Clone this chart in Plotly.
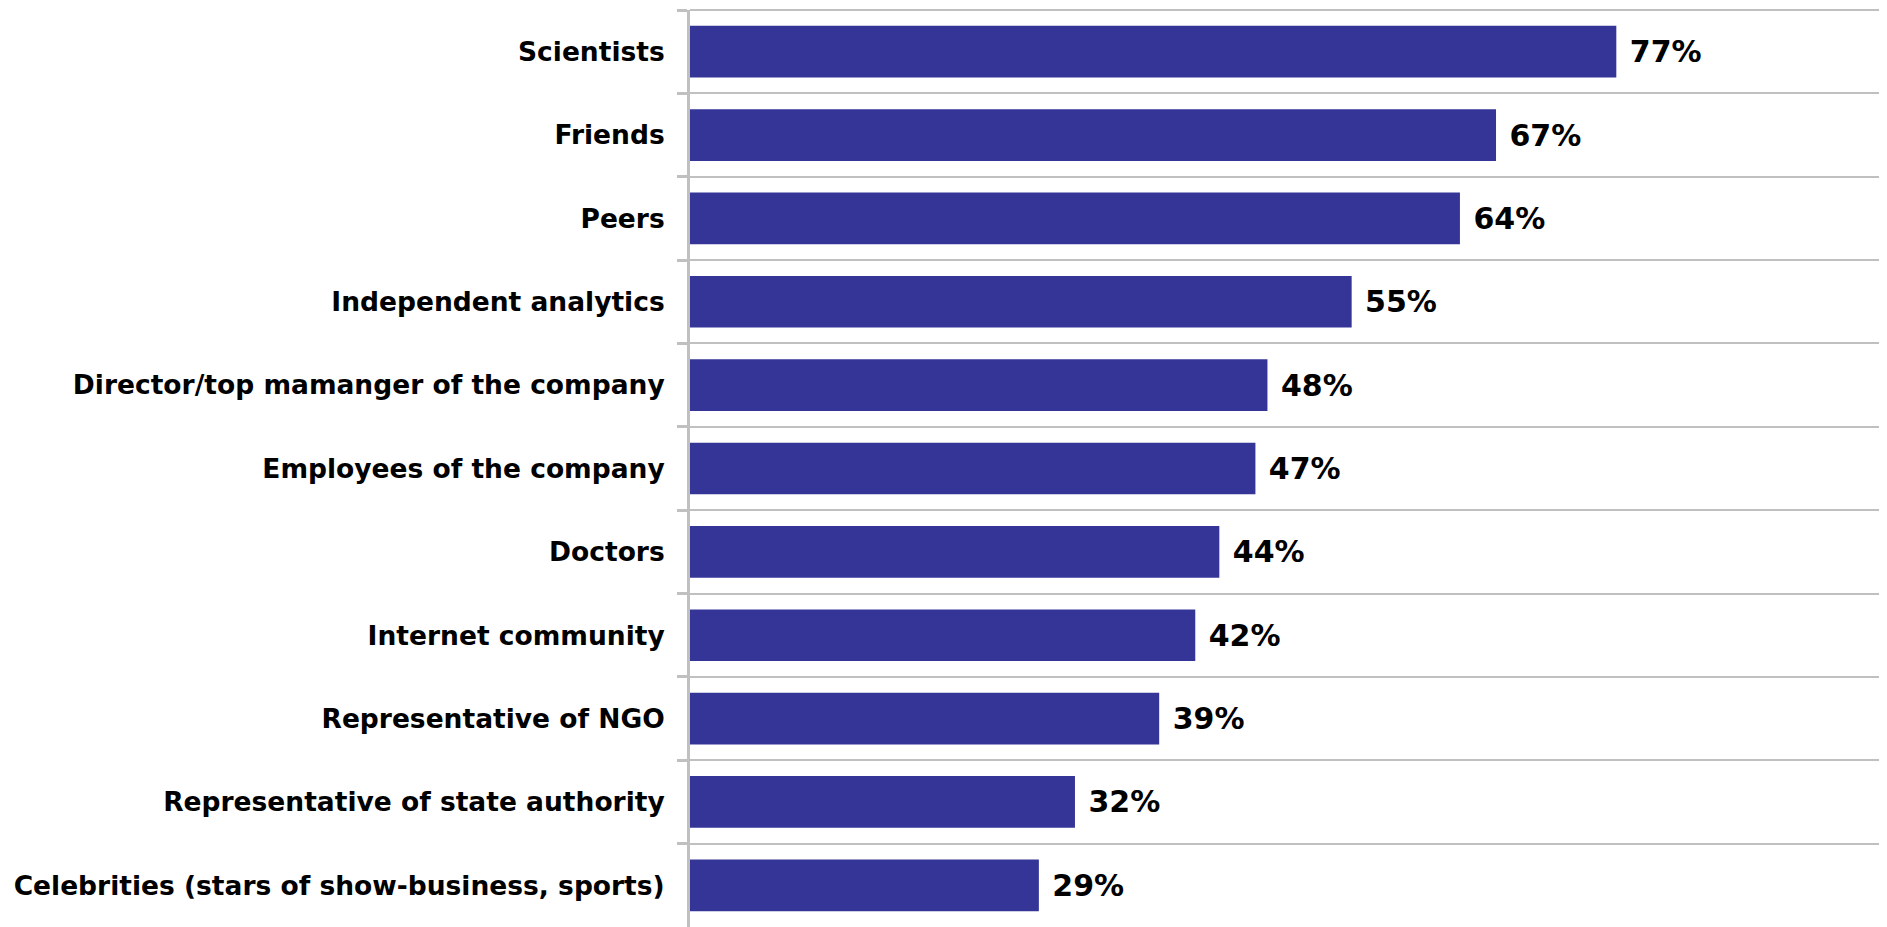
import plotly.graph_objects as go

# survey answers, top to bottom as in the chart
categories = [
    "Scientists",
    "Friends",
    "Peers",
    "Independent analytics",
    "Director/top mamanger of the company",
    "Employees of the company",
    "Doctors",
    "Internet community",
    "Representative of NGO",
    "Representative of state authority",
    "Celebrities (stars of show-business, sports)",
]
shares = [77, 67, 64, 55, 48, 47, 44, 42, 39, 32, 29]

bar_color = "#353598"
grid_color = "#c0c0c0"

fig = go.Figure()

fig.add_trace(go.Bar(
    x=shares,
    y=categories,
    orientation="h",
    marker=dict(color=bar_color, line=dict(width=0)),
    text=[f"{v}%" for v in shares],
    texttemplate=" %{text}",
    textposition="outside",
    textfont=dict(family="DejaVu Sans", size=30, color="black", weight="bold"),
    cliponaxis=False,
    width=0.62,
))

# top border line, the category gridlines only cover inner boundaries
fig.add_shape(type="line", xref="paper", yref="paper", x0=0, x1=1, y0=1, y1=1,
              line=dict(color=grid_color, width=2))

# page body adds an 8px offset, so the figure is a bit smaller than the window
fig.update_layout(
    width=1879,
    height=919,
    margin=dict(l=682, r=0, t=2, b=0),
    plot_bgcolor="white",
    paper_bgcolor="white",
    showlegend=False,
    font=dict(family="DejaVu Sans", color="black"),
)

fig.update_xaxes(
    range=[0, 99.5],
    showgrid=False,
    zeroline=False,
    showticklabels=False,
    ticks="",
)

fig.update_yaxes(
    type="category",
    range=[10.5, -0.5],
    tickson="boundaries",
    ticks="outside",
    ticklen=10,
    tickwidth=3,
    tickcolor=grid_color,
    showline=True,
    linecolor=grid_color,
    linewidth=3,
    showgrid=True,
    gridcolor=grid_color,
    gridwidth=2,
    ticklabelstandoff=17,
    tickfont=dict(family="DejaVu Sans", size=26.5, color="black", weight="bold"),
)

fig.write_html("out.html")
